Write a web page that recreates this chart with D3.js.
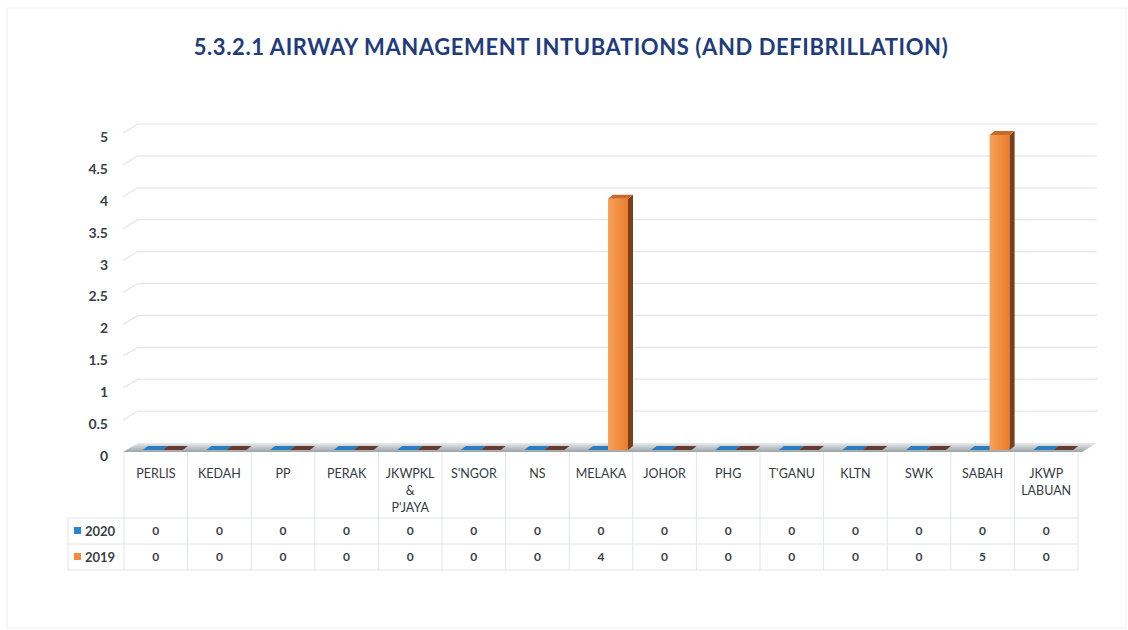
<!DOCTYPE html>
<html>
<head>
<meta charset="utf-8">
<script src="https://cdn.jsdelivr.net/npm/d3@7"></script>
<style>
  body { margin: 0; background: #fff; }
  text { font-family: Lato, "Open Sans", sans-serif; }
</style>
</head>
<body>
<svg id="chart" width="1128" height="630"></svg>
<script>
// data
const categories = ["PERLIS", "KEDAH", "PP", "PERAK", "JKWPKL\n&\nP'JAYA", "S'NGOR", "NS", "MELAKA",
  "JOHOR", "PHG", "T'GANU", "KLTN", "SWK", "SABAH", "JKWP\nLABUAN"];
const values2020 = [0, 0, 0, 0, 0, 0, 0, 0, 0, 0, 0, 0, 0, 0, 0];
const values2019 = [0, 0, 0, 0, 0, 0, 0, 4, 0, 0, 0, 0, 0, 5, 0];
const yTicks = [0, 0.5, 1, 1.5, 2, 2.5, 3, 3.5, 4, 4.5, 5];
const seriesNames = ["2020", "2019"];

const svg = d3.select("#chart");

// faint frame around the page
svg.append("rect")
  .attr("x", 7).attr("y", 8).attr("width", 1119).attr("height", 620)
  .attr("fill", "none").attr("stroke", "#eceff1");

// title
svg.append("text")
  .attr("x", 571).attr("y", 55)
  .attr("text-anchor", "middle")
  .attr("font-size", 22).attr("font-weight", "bold")
  .attr("letter-spacing", 0.6)
  .attr("fill", "#1f3c7c")
  .text("5.3.2.1 AIRWAY MANAGEMENT INTUBATIONS (AND DEFIBRILLATION)");

// scales
const x = d3.scaleBand().domain(categories).range([124, 1078]);
const y = d3.scaleLinear().domain([0, 5]).range([452, 133]);
const wallDx = 15, wallDy = -9; // depth of the 3d back wall

// gridlines with diagonal on the side wall
const grid = svg.append("g");
yTicks.forEach(t => {
  if (t === 0) return;
  const yy = y(t);
  grid.append("path")
    .attr("d", `M123,${yy} L${123 + wallDx},${yy + wallDy} L1097,${yy + wallDy}`)
    .attr("fill", "none").attr("stroke", "#dde7ec").attr("stroke-width", 1.2);
});

// y axis labels
svg.append("g").selectAll("text")
  .data(yTicks).join("text")
  .attr("x", 108).attr("y", d => y(d) + 4)
  .attr("dy", "0.35em")
  .attr("text-anchor", "end")
  .attr("font-size", 14).attr("font-weight", "bold")
  .attr("fill", "#3a3f48")
  .text(d => d);

// floor
const defs = svg.append("defs");
const fg = defs.append("linearGradient").attr("id", "floor").attr("x1", 0).attr("y1", 0).attr("x2", 0).attr("y2", 1);
fg.append("stop").attr("offset", "0%").attr("stop-color", "#e8ecee");
fg.append("stop").attr("offset", "100%").attr("stop-color", "#9aa3a7");
svg.append("path")
  .attr("d", `M123,452 L1082,452 L1097,443 L138,443 Z`)
  .attr("fill", "url(#floor)");

// bars
const barW = 20, bdx = 5, bdy = -4;
const series = [
  { name: "2020", values: values2020, front: "#2a86d0", top: "#2a7dc0", side: "#1a4f80", off: -13 },
  { name: "2019", values: values2019, front: "#f08a3c", top: "#6a3a2e", side: "#7a3f1a", off: 7 }
];
const og = defs.append("linearGradient").attr("id", "orangeFront").attr("x1", 0).attr("y1", 0).attr("x2", 1).attr("y2", 0);
og.append("stop").attr("offset", "0%").attr("stop-color", "#f7a259");
og.append("stop").attr("offset", "100%").attr("stop-color", "#ea7c2c");

const barsG = svg.append("g");
series.forEach(s => {
  categories.forEach((c, i) => {
    const v = s.values[i];
    const cx = x(c) + x.bandwidth() / 2;
    const x0 = cx + s.off;
    const base = 450;
    const top = v === 0 ? base : y(v) + 2;
    if (v > 0) {
      // front face
      barsG.append("rect")
        .attr("x", x0).attr("y", top).attr("width", barW).attr("height", base - top)
        .attr("fill", s.name === "2019" ? "url(#orangeFront)" : s.front);
      // side face
      barsG.append("path")
        .attr("d", `M${x0 + barW},${top} L${x0 + barW + bdx},${top + bdy} L${x0 + barW + bdx},${base + bdy} L${x0 + barW},${base} Z`)
        .attr("fill", s.side);
      // top face
      barsG.append("path")
        .attr("d", `M${x0},${top} L${x0 + barW},${top} L${x0 + barW + bdx},${top + bdy} L${x0 + bdx},${top + bdy} Z`)
        .attr("fill", "#c8692c");
    } else {
      barsG.append("path")
        .attr("d", `M${x0},${top} L${x0 + barW},${top} L${x0 + barW + bdx},${top + bdy} L${x0 + bdx},${top + bdy} Z`)
        .attr("fill", s.top);
    }
  });
});

// data table
const table = svg.append("g");
const rowTop = [452, 518, 544, 570];
const leftX = 68, tableR = 1078;
const lineColor = "#e0e4e6";
// horizontal lines
[1, 2, 3].forEach(k => {
  table.append("line").attr("x1", leftX).attr("x2", tableR)
    .attr("y1", rowTop[k]).attr("y2", rowTop[k]).attr("stroke", lineColor);
});
// vertical lines
categories.forEach(c => {
  table.append("line").attr("x1", x(c)).attr("x2", x(c)).attr("y1", rowTop[0]).attr("y2", rowTop[3]).attr("stroke", lineColor);
});
table.append("line").attr("x1", tableR).attr("x2", tableR).attr("y1", rowTop[0]).attr("y2", rowTop[3]).attr("stroke", lineColor);
table.append("line").attr("x1", leftX).attr("x2", leftX).attr("y1", rowTop[1]).attr("y2", rowTop[3]).attr("stroke", lineColor);

// category labels
categories.forEach(c => {
  const t = table.append("text")
    .attr("x", x(c) + x.bandwidth() / 2).attr("y", 478)
    .attr("text-anchor", "middle")
    .attr("font-size", 12.5).attr("fill", "#363b44");
  c.split("\n").forEach((line, k) => {
    t.append("tspan").attr("x", x(c) + x.bandwidth() / 2).attr("dy", k === 0 ? 0 : 17).text(line);
  });
});

// values rows + legend keys
series.forEach((s, r) => {
  const cyRow = (rowTop[r + 1] + rowTop[r + 2]) / 2;
  table.append("rect")
    .attr("x", 74).attr("y", cyRow - 4).attr("width", 7).attr("height", 7)
    .attr("fill", r === 0 ? "#2a86d0" : "#f08a3c");
  table.append("text")
    .attr("x", 85).attr("y", cyRow).attr("dy", "0.35em")
    .attr("font-size", 13).attr("font-weight", "bold").attr("fill", "#3a3f48")
    .text(seriesNames[r]);
  categories.forEach((c, i) => {
    table.append("text")
      .attr("x", x(c) + x.bandwidth() / 2).attr("y", cyRow).attr("dy", "0.35em")
      .attr("text-anchor", "middle")
      .attr("font-size", 12).attr("font-weight", "bold").attr("fill", "#3a3f48")
      .text(s.values[i]);
  });
});
</script>
</body>
</html>
